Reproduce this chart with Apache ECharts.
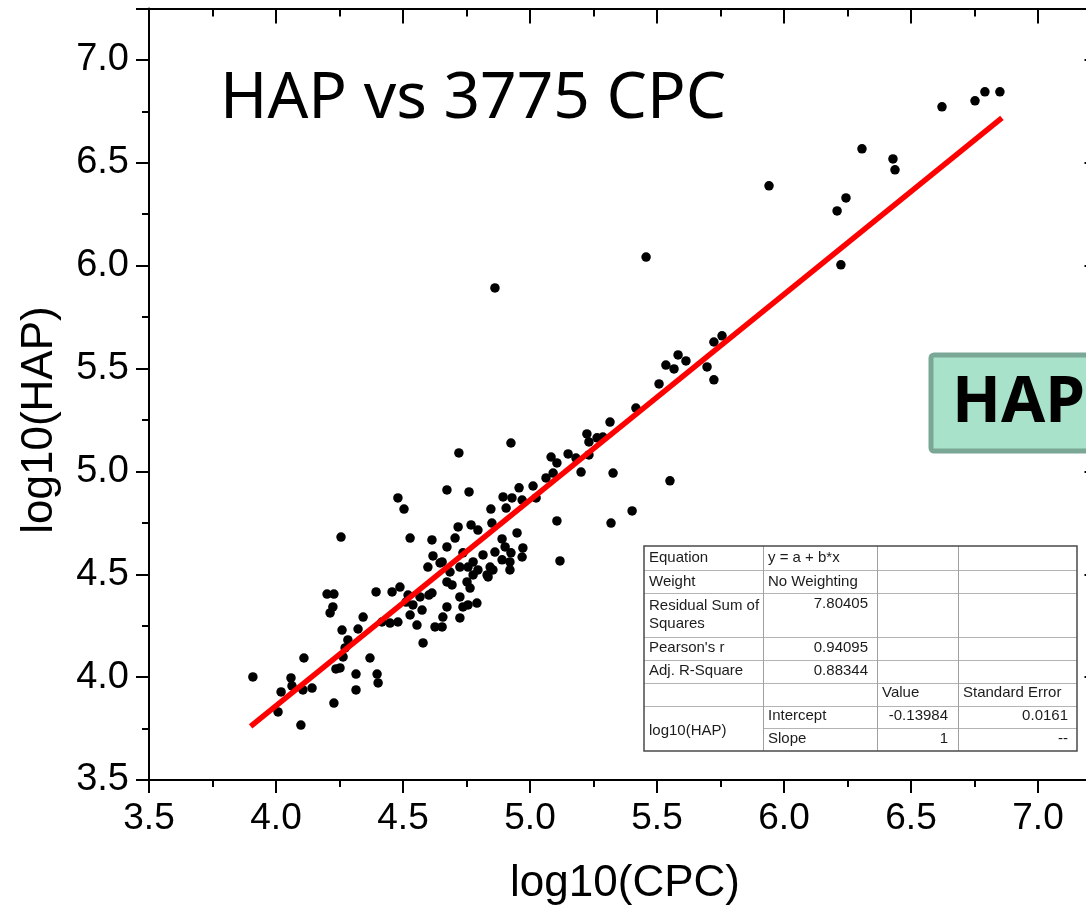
<!DOCTYPE html>
<html>
<head>
<meta charset="utf-8">
<script src="https://cdn.jsdelivr.net/npm/echarts@6/dist/echarts.min.js"></script>
<style>html,body{margin:0;padding:0;background:#fff;overflow:hidden;width:1086px;height:909px}#c{width:1102px;height:909px}</style>
</head>
<body>
<div id="c"></div>
<script>
// ---- data ----
var cpc = [6.622,6.752,6.791,6.850,6.307,6.429,6.437,6.244,6.209,6.224,5.941,5.457,4.862,
5.756,5.724,5.583,5.614,5.535,5.567,5.697,5.724,5.508,5.417,5.315,5.287,5.327,5.551,5.402,5.319,
5.224,5.232,5.264,5.232,5.150,5.181,5.083,5.106,5.091,5.063,5.201,4.925,4.720,4.673,4.760,4.957,5.012,5.024,4.894,4.929,4.969,4.906,4.846,4.850,5.106,5.118,4.949,4.717,4.768,4.795,4.705,4.673,4.890,4.902,4.972,4.969,4.925,4.862,4.890,4.921,4.815,4.776,4.736,4.795,4.831,4.854,4.724,4.685,4.654,
4.480,4.504,4.256,4.528,4.614,4.618,4.646,4.598,4.756,4.776,4.843,4.835,4.921,4.752,4.764,4.673,4.693,4.614,4.724,4.791,4.756,4.736,4.673,4.575,4.539,4.520,4.488,4.457,4.394,4.567,4.724,4.657,4.654,4.626,4.579,4.555,4.528,4.480,4.449,4.417,4.343,4.323,4.260,4.283,4.201,4.228,4.224,4.213,
4.272,4.264,4.110,4.370,4.252,4.236,4.315,4.398,4.402,4.315,3.909,4.059,4.063,4.020,4.106,4.142,4.008,4.228,4.098,4.512,4.602];
var hap = [6.772,6.801,6.845,6.845,6.568,6.519,6.466,6.329,6.266,6.004,6.388,6.042,5.892,
5.659,5.629,5.566,5.537,5.517,5.498,5.508,5.445,5.425,5.308,5.240,5.167,4.992,4.954,4.808,4.749,
5.182,5.143,5.163,5.080,5.085,5.065,5.070,5.041,4.992,4.968,4.997,5.138,5.090,4.910,4.900,4.920,4.929,4.871,4.876,4.871,4.861,4.822,4.817,4.749,4.759,4.565,4.701,4.730,4.740,4.715,4.676,4.633,4.672,4.633,4.628,4.584,4.604,4.608,4.570,4.560,4.594,4.560,4.604,4.521,4.497,4.521,4.535,4.511,4.560,
4.871,4.817,4.681,4.676,4.667,4.589,4.555,4.535,4.535,4.497,4.535,4.487,4.521,4.463,4.433,4.463,4.448,4.409,4.390,4.360,4.351,4.341,4.341,4.326,4.351,4.399,4.438,4.414,4.414,4.390,4.288,4.292,4.244,4.244,4.166,4.253,4.302,4.268,4.263,4.268,4.292,4.234,4.229,4.181,4.404,4.404,4.341,4.312,
4.142,4.098,4.093,4.093,4.045,4.040,4.015,4.015,3.972,3.938,4.001,3.996,3.957,3.928,3.938,3.947,3.831,3.874,3.767,4.365,4.399];
var fitIntercept = -0.13984, fitSlope = 1;
var fitRange = [3.9, 6.858];
var xMin = 3.5, xMax = 7.25, yMin = 3.5, yMax = 7.25, axisStep = 0.5;
var titleText = 'HAP vs 3775 CPC';
var xName = 'log10(CPC)', yName = 'log10(HAP)';
var tableRows = [
  ['Equation', 'y = a + b*x', '', ''],
  ['Weight', 'No Weighting', '', ''],
  ['Residual Sum of\nSquares', '7.80405', '', ''],
  ["Pearson's r", '0.94095', '', ''],
  ['Adj. R-Square', '0.88344', '', ''],
  ['', '', 'Value', 'Standard Error'],
  ['log10(HAP)', 'Intercept', '-0.13984', '0.0161'],
  ['', 'Slope', '1', '--']
];

var points = cpc.map(function(v,i){return [v, hap[i]];});
var fitLine = fitRange.map(function(x){return [x, fitIntercept + fitSlope*x];});

var chart = echarts.init(document.getElementById('c'), null, {renderer:'canvas'});
var black = '#000';
function axisCommon(mn, mx){
  return {type:'value', min:mn, max:mx, interval:axisStep, splitLine:{show:false},
    axisLine:{show:true, onZero:false, lineStyle:{color:black,width:2}}};
}
var xb = axisCommon(xMin, xMax);
xb.position='bottom';
xb.axisTick={show:true,length:13,lineStyle:{color:black,width:2}};
xb.minorTick={show:true,splitNumber:2,length:7,lineStyle:{color:black,width:2}};
xb.axisLabel={showMaxLabel:false,fontFamily:'Liberation Sans',fontSize:37,color:'#000',margin:20,formatter:function(v){return v.toFixed(1);}};
var xt = axisCommon(xMin, xMax);
xt.position='top';
xt.axisTick={show:true,inside:true,length:15,lineStyle:{color:black,width:2}};
xt.minorTick={show:true,splitNumber:2,length:8,lineStyle:{color:black,width:2}};
xt.axisLabel={show:false};
var yl = axisCommon(yMin, yMax);
yl.position='left';
yl.axisTick={show:true,length:13,lineStyle:{color:black,width:2}};
yl.minorTick={show:true,splitNumber:2,length:7,lineStyle:{color:black,width:2}};
yl.axisLabel={showMaxLabel:false,fontFamily:'Liberation Sans',fontSize:38,color:'#000',margin:20,formatter:function(v){return v.toFixed(1);}};
var yr = axisCommon(yMin, yMax);
yr.position='right';
yr.axisTick={show:true,inside:true,length:17,lineStyle:{color:black,width:2}};
yr.minorTick={show:true,splitNumber:2,length:8,lineStyle:{color:black,width:2}};
yr.axisLabel={show:false};

// table graphic
var colX = [644, 763, 877, 958, 1077];
var rowY = [546, 570, 593, 637, 660, 683, 706, 728, 751];
var textMid = [558, 582, 604, 648, 671, 693, 716, 739];
var tableEls = [];
tableEls.push({type:'rect', shape:{x:colX[0],y:rowY[0],width:colX[4]-colX[0],height:rowY[8]-rowY[0]}, style:{fill:'#fff',stroke:null}, z:100});
for (var r=1;r<rowY.length-1;r++){
  var x0 = (r===7)? colX[1] : colX[0];
  tableEls.push({type:'line', shape:{x1:x0,y1:rowY[r]+0.5,x2:colX[4],y2:rowY[r]+0.5}, style:{stroke:'#b4b4b4',lineWidth:1}, z:101});
}
for (var c=1;c<4;c++){
  tableEls.push({type:'line', shape:{x1:colX[c]+0.5,y1:rowY[0],x2:colX[c]+0.5,y2:rowY[8]}, style:{stroke:'#a0a0a0',lineWidth:1}, z:101});
}
tableEls.push({type:'rect', shape:{x:colX[0],y:rowY[0],width:colX[4]-colX[0],height:rowY[8]-rowY[0]}, style:{fill:null,stroke:'#4a4a4a',lineWidth:1.5}, z:102});
var tf = {fontFamily:'Liberation Sans', fontSize:15, fill:'#1c1c1c'};
function txt(s, x, y, align){
  return {type:'text', x:x, y:y, z:103, style:Object.assign({text:s, textAlign:align, textVerticalAlign:'middle'}, tf)};
}
tableRows.forEach(function(row, r){
  var y = textMid[r];
  if (row[0]) {
    if (r===2) { tableEls.push(txt('Residual Sum of', 649, 606, 'left')); tableEls.push(txt('Squares', 649, 624, 'left')); }
    else if (r===6) tableEls.push(txt(row[0], 649, 731, 'left'));
    else tableEls.push(txt(row[0], 649, y, 'left'));
  }
  if (row[1]) {
    var numeric = /^[-0-9.]+$/.test(row[1]);
    tableEls.push(txt(row[1], numeric? 868 : 768, y, numeric? 'right':'left'));
  }
  if (row[2]) {
    var n2 = /^[-0-9.]+$/.test(row[2]);
    tableEls.push(txt(row[2], n2? 948 : 882, y, n2? 'right':'left'));
  }
  if (row[3]) {
    var n3 = /^[-0-9.]+$/.test(row[3]);
    tableEls.push(txt(row[3], n3? 1068 : 963, y, n3? 'right':'left'));
  }
});

var graphics = [
  {type:'text', x:220, y:100, z:50, style:{text:titleText, fontFamily:'Noto Sans', fontSize:64, fill:'#000', textVerticalAlign:'middle'}},
  {type:'text', x:40, y:420, rotation:Math.PI/2, z:50, style:{text:yName, fontFamily:'Liberation Sans', fontSize:44, fill:'#000', textAlign:'center', textVerticalAlign:'middle'}},
  {type:'text', x:625, y:884, z:50, style:{text:xName, fontFamily:'Liberation Sans', fontSize:44, fill:'#000', textAlign:'center', textVerticalAlign:'middle'}},
  {type:'rect', shape:{x:931, y:355, width:200, height:96, r:3}, z:60, style:{fill:'#a9e2cb', stroke:'#7ba896', lineWidth:5}},
  {type:'text', x:952, y:404, z:61, style:{text:'HAP', fontFamily:'Noto Sans', fontWeight:'bold', fontSize:64, fill:'#000', textVerticalAlign:'middle'}}
].concat(tableEls);

chart.setOption({
  animation:false,
  backgroundColor:'#fff',
  grid:{left:149, top:8.5, width:952.5, height:771.5, containLabel:false},
  xAxis:[xb, xt],
  yAxis:[yl, yr],
  series:[
    {type:'scatter', data:points, symbol:'circle', symbolSize:9.5, itemStyle:{color:'#000', opacity:1}, z:3, xAxisIndex:0, yAxisIndex:0},
    {type:'line', data:fitLine, showSymbol:false, symbol:'none', lineStyle:{color:'#ff0000', width:5.5}, z:4, xAxisIndex:0, yAxisIndex:0}
  ],
  graphic:graphics
});
</script>
</body>
</html>
